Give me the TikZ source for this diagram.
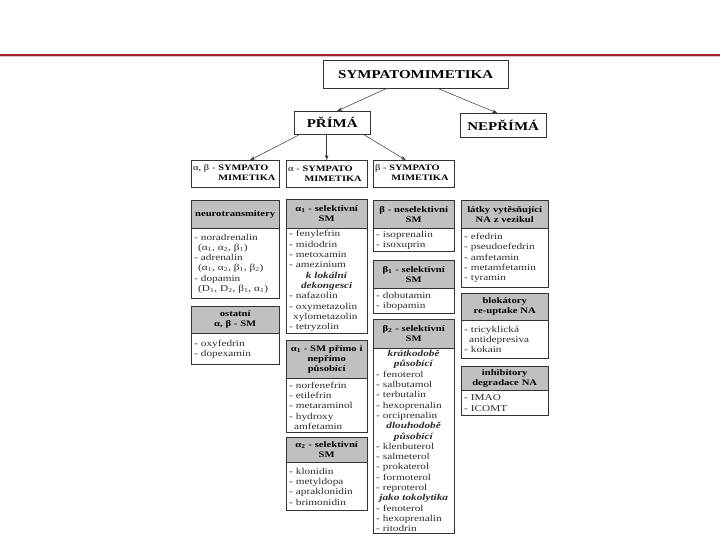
\documentclass[tikz,border=0pt]{standalone}
\usepackage{fontspec}
\setmainfont{Liberation Serif}[FakeStretch=1.25]
\usepackage{tikz}
\usetikzlibrary{arrows.meta}

\definecolor{rulered}{RGB}{165,35,45}
\definecolor{hdgray}{RGB}{192,192,192}
\definecolor{txtgray}{RGB}{45,45,45}

\newcommand{\alp}[1]{α\textsubscript{#1}}
\newcommand{\bet}[1]{β\textsubscript{#1}}
\newcommand{\subhd}[1]{\hfill\textbf{\textit{#1}}\hfill\null}

\begin{document}
\begin{tikzpicture}[x=1pt, y=-1pt,
  title/.style={draw=black!80, fill=white, font=\bfseries\fontsize{12}{14}\selectfont, inner sep=0pt, anchor=north west},
  cat/.style={draw=black!80, fill=white, font=\fontsize{8.3}{10.5}\selectfont, align=left, inner xsep=2pt, inner ysep=1pt, anchor=north west, minimum height=27pt},
  hd/.style={draw=black!80, fill=hdgray, font=\bfseries\fontsize{8.5}{10}\selectfont, align=center, inner xsep=3pt, inner ysep=1pt, anchor=north west},
  bd/.style={draw=black!80, fill=white, text=txtgray, font=\fontsize{9}{10.3}\selectfont, align=left, inner xsep=3pt, inner ysep=1pt, anchor=north west},
  colA/.style={text width=82pt},
  colB/.style={text width=75pt},
  colD/.style={text width=81pt},
  arr/.style={-{Stealth[length=5pt,width=3.5pt]}, black!80, line width=0.5pt},
]
  \useasboundingbox (0,0) rectangle (720,540);
  \fill[white] (0,0) rectangle (720,540);

  % header rule
  \draw[rulered!30, line width=1pt] (0,56.5) -- (720,56.5);
  \draw[rulered, line width=1.1pt] (0,55) -- (720,55);

  % top levels
  \node[title, minimum width=185pt, minimum height=28pt] (top) at (323,60) {SYMPATOMIMETIKA};
  \node[title, minimum width=76pt, minimum height=23pt] (prima) at (294,111) {PŘÍMÁ};
  \node[title, minimum width=86pt, minimum height=24pt] (neprima) at (460,113) {NEPŘÍMÁ};
  \draw[arr] ([xshift=-29pt]top.south) -- ([xshift=5pt]prima.north);
  \draw[arr] ([xshift=22pt]top.south) -- ([xshift=-6pt]neprima.north);

  % direct groups
  \node[cat, text width=84pt] (ab) at (191,160) {α, β - \textbf{SYMPATO}\\\phantom{α, β - }\textbf{MIMETIKA}};
  \node[cat, text width=77pt] (a) at (286,160) {α - \textbf{SYMPATO}\\\phantom{α - }\hspace{2pt}\textbf{MIMETIKA}};
  \node[cat, text width=77pt] (b) at (373,160) {β - \textbf{SYMPATO}\\\phantom{β - }\hspace{2pt}\textbf{MIMETIKA}};
  \draw[arr] ([xshift=6pt]prima.south west) -- ([xshift=15pt]ab.north);
  \draw[arr] (a.north |- prima.south) -- (a.north);
  \draw[arr] ([xshift=-7pt]prima.south east) -- ([xshift=-8pt]b.north);

  % column 1
  \node[hd, colA, minimum height=28pt] (nt) at (191,200) {neurotransmitery};
  \node[bd, colA, minimum height=70pt] (ntl) at (nt.south west) {- noradrenalin\\\hspace*{4pt}(\alp1, \alp2, \bet1)\\- adrenalin\\\hspace*{4pt}(\alp1, \alp2, \bet1, \bet2)\\- dopamin\\\hspace*{4pt}(D\textsubscript{1}, D\textsubscript{2}, \bet1, \alp1)};
  \node[hd, colA, minimum height=27pt] (ost) at (191,306) {ostatní\\α, β - SM};
  \node[bd, colA, minimum height=31pt] (ostl) at (ost.south west) {- oxyfedrin\\- dopexamin};

  % column 2
  \node[hd, colB, minimum height=29pt] (a1) at (286,199) {\alp1 - selektivní\\SM};
  \node[bd, colB, minimum height=105pt] (a1l) at (a1.south west) {- fenylefrin\\- midodrin\\- metoxamin\\- amezinium\\\subhd{k lokální}\\\subhd{dekongesci}\\- nafazolin\\- oxymetazolin\\\hspace*{4pt}xylometazolin\\- tetryzolin};
  \node[hd, colB, minimum height=38pt] (a1p) at (286,340) {\alp1 - SM přímo i\\nepřímo\\působící};
  \node[bd, colB, minimum height=54pt] (a1pl) at (a1p.south west) {- norfenefrin\\- etilefrin\\- metaraminol\\- hydroxy\\\hspace*{5pt}amfetamin};
  \node[hd, colB, minimum height=25pt] (a2) at (286,437) {\alp2 - selektivní\\SM};
  \node[bd, colB, minimum height=48pt] (a2l) at (a2.south west) {- klonidin\\- metyldopa\\- apraklonidin\\- brimonidin};

  % column 3
  \node[hd, colB, minimum height=28pt] (bn) at (373,200) {β - neselektivní\\SM};
  \node[bd, colB, minimum height=23pt] (bnl) at (bn.south west) {- isoprenalin\\- isoxuprin};
  \node[hd, colB, minimum height=28pt] (b1) at (373,260) {\bet1 - selektivní\\SM};
  \node[bd, colB, minimum height=25pt] (b1l) at (b1.south west) {- dobutamin\\- ibopamin};
  \node[hd, colB, minimum height=29pt] (b2) at (373,319) {\bet2 - selektivní\\SM};
  \node[bd, colB, minimum height=185pt] (b2l) at (b2.south west) {\subhd{krátkodobě}\\\subhd{působící}\\- fenoterol\\- salbutamol\\- terbutalin\\- hexoprenalin\\- orciprenalin\\\subhd{dlouhodobě}\\\subhd{působící}\\- klenbuterol\\- salmeterol\\- prokaterol\\- formoterol\\- reproterol\\\subhd{jako tokolytika}\\- fenoterol\\- hexoprenalin\\- ritodrin};

  % column 4
  \node[hd, colD, minimum height=28pt] (vyt) at (461,200) {látky vytěsňující\\NA z vezikul};
  \node[bd, colD, minimum height=59pt] (vytl) at (vyt.south west) {- efedrin\\- pseudoefedrin\\- amfetamin\\- metamfetamin\\- tyramin};
  \node[hd, colD, minimum height=27pt] (blk) at (461,293) {blokátory\\re-uptake NA};
  \node[bd, colD, minimum height=38pt] (blkl) at (blk.south west) {- tricyklická\\\hspace*{5pt}antidepresiva\\- kokain};
  \node[hd, colD, minimum height=24pt] (inh) at (461,366) {inhibitory\\degradace NA};
  \node[bd, colD, minimum height=25pt] (inhl) at (inh.south west) {- IMAO\\- ICOMT};
\end{tikzpicture}
\end{document}
